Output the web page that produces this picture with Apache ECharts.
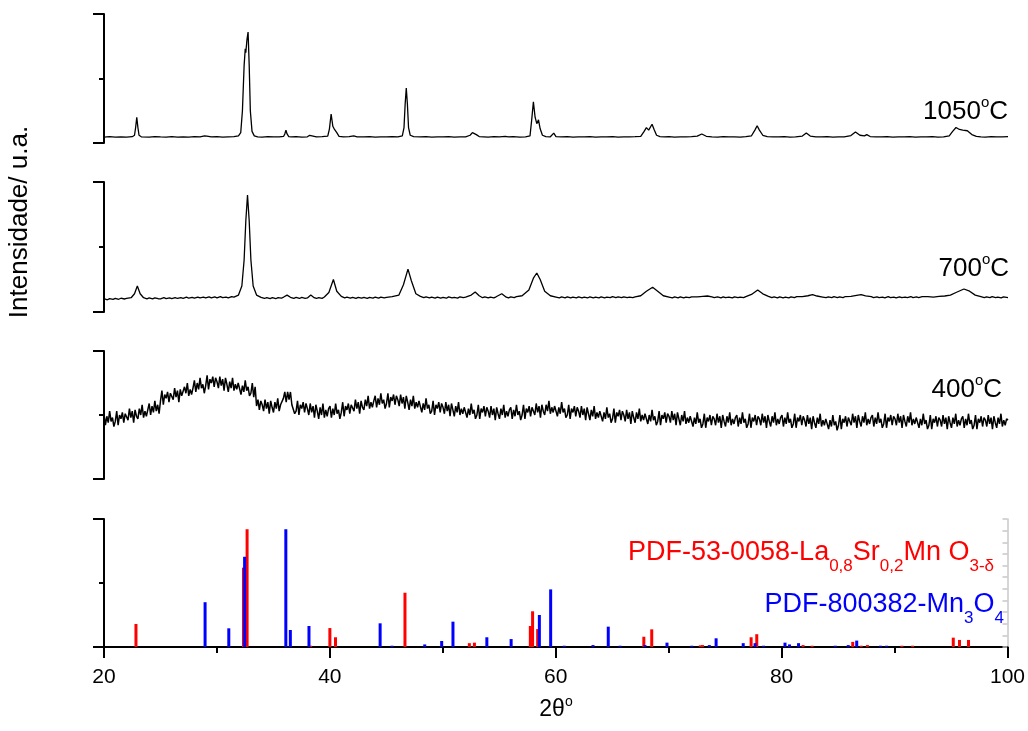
<!DOCTYPE html>
<html>
<head>
<meta charset="utf-8">
<script src="https://cdn.jsdelivr.net/npm/echarts@6/dist/echarts.min.js"></script>
<style>
html,body{margin:0;padding:0;background:#fff;}
#chart{width:1028px;height:731px;}
</style>
</head>
<body>
<div id="chart"></div>
<script>
// ---- data ----
const xTicks = [20, 40, 60, 80, 100];
const panelLabels = ['1050', '700', '400'];

// 1050 °C pattern: [2θ, intensity (panel units 0-100)]
const scan1050 = [
[20,4.6],[20.5,4.9],[21,4.5],[21.5,4.8],[22,4.6],[22.5,4.9],[22.7,6],[22.8,12],[22.9,20],[23.0,12],[23.1,6],[23.3,4.8],[24,4.6],[24.5,5],[25,4.7],[25.5,4.5],[26,4.9],[26.5,4.6],[27,4.8],[27.5,4.6],[28,4.9],[28.5,4.7],[28.9,5.5],[29.0,6.5],[29.1,5.4],[29.5,4.7],[30,4.9],[30.5,4.6],[31,4.8],[31.5,4.9],[31.9,5.5],[32.1,8],[32.25,25],[32.4,60],[32.5,73],[32.55,70],[32.65,80],[32.75,86],[32.85,60],[32.95,25],[33.1,9],[33.3,5.5],[33.6,4.8],[34,4.6],[34.5,4.9],[35,4.7],[35.5,4.8],[35.9,5.2],[36.0,7],[36.1,10],[36.2,7],[36.35,5],[36.6,4.7],[37,4.9],[37.5,4.6],[38,4.8],[38.2,6],[38.35,4.9],[38.8,4.7],[39.3,4.9],[39.8,5.3],[39.95,11],[40.1,22.5],[40.25,13],[40.4,10.5],[40.5,12],[40.6,8],[40.8,5.2],[41.2,4.7],[41.7,4.9],[42.1,5.6],[42.4,4.8],[43,4.7],[43.5,4.9],[44,4.6],[44.5,4.8],[45,4.7],[45.5,4.9],[46,4.8],[46.4,5.5],[46.55,12],[46.65,30],[46.75,42.6],[46.85,30],[46.95,12],[47.1,6],[47.4,4.9],[48,4.7],[48.5,4.9],[49,4.6],[49.5,4.8],[50,4.7],[50.5,4.9],[51,4.6],[51.5,4.8],[52,4.8],[52.4,6],[52.6,8],[52.75,8.5],[52.95,6.5],[53.2,5],[53.6,4.8],[54,4.6],[54.5,4.9],[55,4.7],[55.5,5.1],[55.8,4.7],[56.2,4.9],[56.8,4.6],[57.3,4.8],[57.7,5.5],[57.85,18],[58.0,32],[58.15,20],[58.3,15],[58.45,18],[58.6,11],[58.8,6],[59.1,5],[59.5,4.8],[59.8,7.7],[60.0,5],[60.5,4.7],[61,4.9],[61.5,4.6],[62,4.8],[62.5,4.7],[63,4.9],[63.5,4.6],[64,4.8],[64.5,4.7],[65,4.9],[65.5,4.6],[66,4.8],[66.5,4.7],[67,4.9],[67.5,5.2],[67.8,9],[68.0,11.9],[68.2,10],[68.5,14.5],[68.7,10],[68.9,6],[69.2,5],[69.6,4.7],[70,4.9],[70.5,4.6],[71,4.8],[71.5,4.7],[72,4.9],[72.5,5.3],[72.9,7],[73.3,5.2],[73.8,4.8],[74.3,4.6],[74.8,4.9],[75.3,4.7],[75.8,4.8],[76.3,4.6],[76.8,4.9],[77.3,5.6],[77.6,10],[77.8,13.4],[78.0,10],[78.3,6],[78.7,5],[79.2,4.8],[79.7,4.7],[80.2,4.9],[80.7,4.6],[81.2,4.8],[81.8,5.4],[82.15,7.7],[82.5,5.4],[83,4.8],[83.5,4.7],[84,4.9],[84.5,4.6],[85,4.8],[85.5,4.7],[86.1,5.8],[86.5,8.5],[86.9,6],[87.3,5.5],[87.5,6.5],[87.8,5],[88.3,4.8],[88.8,4.7],[89.3,4.9],[89.8,4.6],[90.3,4.8],[90.8,4.7],[91.3,4.9],[91.8,4.6],[92.3,4.8],[92.8,4.7],[93.3,4.9],[93.8,4.6],[94.3,4.8],[94.8,5.6],[95.1,9],[95.4,12],[95.7,10.5],[96.0,10],[96.4,9.5],[96.8,6.5],[97.2,5.2],[97.6,4.8],[98,4.6],[98.5,4.9],[99,4.7],[99.5,4.8],[100,4.9]
];

// 700 °C pattern
const scan700 = [
[20,10.2],[20.3,9.4],[20.5,10.3],[20.8,9.7],[21,10.5],[21.3,9.8],[21.5,10.6],[21.8,10],[22,10.4],[22.4,11],[22.7,14],[22.95,20],[23.2,14],[23.5,11],[23.8,10.1],[24,10.8],[24.3,10.1],[24.5,10.9],[24.8,10.2],[25,10.1],[25.3,11],[25.5,10.3],[25.8,10.9],[26,10.3],[26.3,11.1],[26.5,10.4],[26.8,11],[27,10.5],[27.3,11.4],[27.5,10.6],[27.8,11.2],[28,10.6],[28.3,11.5],[28.5,10.8],[28.8,11.4],[29,10.8],[29.3,11.7],[29.5,10.9],[29.8,11.6],[30,10.9],[30.3,11.8],[30.5,11],[30.8,11.5],[31,10.8],[31.3,11.8],[31.5,11.5],[31.9,13],[32.2,20],[32.4,40],[32.55,70],[32.7,90],[32.85,70],[33.0,40],[33.2,20],[33.5,13],[33.9,11.2],[34.2,10.4],[34.4,11.1],[34.7,10.3],[34.9,11],[35.2,10.2],[35.4,11],[35.7,10.6],[35.9,11.5],[36.2,13],[36.5,11.3],[36.8,10.5],[37,11.2],[37.3,10.4],[37.5,11.2],[37.8,10.5],[38,10.8],[38.3,13],[38.6,11],[38.8,10.4],[39,11.1],[39.3,10.5],[39.5,11.5],[39.9,15],[40.3,25],[40.6,16],[41,12],[41.3,10.8],[41.5,11.4],[41.8,10.6],[42,11.3],[42.3,10.5],[42.5,11.3],[42.8,10.6],[43,11.2],[43.3,10.5],[43.5,11.3],[43.8,10.7],[44,11.4],[44.3,10.7],[44.5,11.5],[44.8,10.9],[45,11.3],[45.5,11.8],[46.1,13],[46.5,21],[46.9,33],[47.2,24],[47.6,14],[48,12],[48.3,11],[48.5,11.6],[48.8,10.8],[49,11.4],[49.3,10.7],[49.5,11.5],[49.8,10.7],[50,11.3],[50.3,10.6],[50.5,11.6],[50.8,10.8],[51,11.2],[51.3,10.7],[51.5,11.7],[51.8,11],[52,11.5],[52.5,13],[52.85,15.4],[53.2,12.5],[53.5,11],[53.7,11.6],[54,10.8],[54.2,11.4],[54.5,10.9],[54.7,11.7],[55.2,14],[55.6,11.4],[55.8,10.8],[56,11.6],[56.3,11],[56.5,11.8],[57,12.5],[57.6,17],[58,26],[58.3,30],[58.6,25],[59,16],[59.5,12.5],[60,11.5],[60.3,10.9],[60.5,11.6],[60.8,10.9],[61,11.7],[61.3,10.8],[61.5,11.5],[61.8,10.9],[62,11.6],[62.3,10.8],[62.5,11.4],[62.8,10.8],[63,11.7],[63.3,10.9],[63.5,11.4],[63.8,10.8],[64,11.6],[64.3,10.9],[64.5,11.5],[64.8,11],[65,11.8],[65.3,11],[65.5,11.6],[65.8,11],[66,11.7],[66.3,11],[66.5,11.5],[66.8,11],[67,11.6],[67.5,12.5],[68,16],[68.55,19],[69,16],[69.5,12.5],[70,11.5],[70.3,10.9],[70.5,11.6],[70.8,10.9],[71,11.6],[71.3,10.8],[71.5,11.4],[71.8,11],[72,11.7],[72.5,11.6],[73,12],[73.4,12.3],[73.8,11.6],[74,11],[74.3,11.6],[74.6,10.9],[74.8,11.7],[75,11],[75.3,11.5],[75.6,10.8],[75.8,11.6],[76.1,11],[76.3,11.5],[76.6,11],[76.8,11.8],[77.3,13.5],[77.85,17],[78.3,14],[78.8,12],[79.1,11],[79.3,11.6],[79.6,10.9],[79.8,11.7],[80.1,10.9],[80.3,11.4],[80.6,10.9],[80.8,11.7],[81.1,11],[81.3,11.8],[81.8,11.9],[82.3,12.5],[82.7,13.3],[83.1,12.3],[83.6,11.5],[83.9,11],[84.1,11.6],[84.4,11],[84.6,11.8],[84.9,11.1],[85.1,11.6],[85.4,11.1],[85.6,11.9],[86.1,12],[86.6,12.8],[87,13.3],[87.4,12.4],[87.9,11.8],[88.1,11.1],[88.4,11.7],[88.6,11],[88.9,11.5],[89.1,10.9],[89.4,11.8],[89.6,11],[89.9,11.4],[90.1,10.9],[90.4,11.7],[90.6,11],[90.9,11.5],[91.1,11],[91.4,11.9],[91.6,11.1],[91.9,11.6],[92.1,11.1],[92.4,11.8],[92.9,11.9],[93.4,11.5],[93.9,12],[94.4,12.3],[94.9,13],[95.4,15],[96.1,17.7],[96.6,16],[97.1,13],[97.6,11.8],[97.9,11],[98.1,11.6],[98.4,11],[98.6,11.8],[98.9,11],[99.1,11.5],[99.4,10.9],[99.6,11.6],[100,11]
];

// 400 °C pattern: sampled every 0.125° from 20°
const scan400Start = 20;
const scan400Step = 0.125;
const scan400 = [
51,42,49,44,53,45,48,41, 45,53,42,50,47,52,44,51, 51,46,55,48,53,44,54,49, 47,55,50,58,48,53,49,54,
59,50,57,52,61,53,58,51, 61,69,58,66,63,68,60,67, 67,62,71,64,69,60,70,65, 64,72,67,75,65,70,66,71,
77,68,75,70,79,71,74,67, 73,81,70,78,75,80,72,79, 76,71,80,73,78,69,79,74, 68,76,71,79,69,74,70,75,
75,66,73,68,77,69,72,65, 67,75,64,72,57,62,54,61, 58,53,62,55,60,51,61,56, 52,60,55,63,53,58,58,63,
68,60,68,62,68,58,59,51, 53,61,50,58,55,60,52,59, 55,50,59,52,57,48,58,53, 47,56,50,59,48,54,49,55,
57,48,55,50,59,51,54,47, 52,60,49,57,54,59,51,58, 58,53,62,55,60,51,61,56, 54,62,57,65,55,60,56,61,
65,56,63,58,67,59,62,55, 59,67,56,64,61,66,58,65, 62,57,66,59,64,55,65,60, 54,62,57,65,55,60,56,61,
61,52,59,54,63,55,58,51, 53,61,50,58,55,60,52,59, 56,51,60,53,58,49,59,54, 49,57,52,60,50,55,51,56,
57,48,55,50,59,51,54,47, 50,58,47,55,52,57,49,56, 53,48,57,50,55,46,56,51, 47,55,50,58,48,53,49,54,
56,47,54,49,58,50,53,46, 50,58,47,55,52,57,49,56, 55,50,59,52,57,48,58,53, 50,58,53,61,51,56,52,57,
58,49,56,51,60,52,55,48, 50,58,47,55,52,57,49,56, 53,48,57,50,55,46,56,51, 46,54,49,57,47,52,48,53,
54,45,52,47,56,48,51,44, 47,55,44,52,49,54,46,53, 50,45,54,47,52,43,53,48, 44,52,47,55,45,50,46,51,
52,43,50,45,54,46,49,42, 45,53,42,50,47,52,44,51, 49,44,53,46,51,42,52,47, 42,50,45,53,43,48,44,49,
50,41,48,43,52,44,47,40, 43,51,40,48,45,50,42,49, 47,42,51,44,49,40,50,45, 41,49,44,52,42,47,43,48,
50,41,48,43,52,44,47,40, 43,51,40,48,45,50,42,49, 47,42,51,44,49,40,50,45, 41,49,44,52,42,47,43,48,
50,41,48,43,52,44,47,40, 43,51,40,48,45,50,42,49, 46,41,50,43,48,39,49,44, 40,48,43,51,41,46,42,47,
48,39,46,41,50,42,45,38, 42,50,39,47,44,49,41,48, 47,42,51,44,49,40,50,45, 41,49,44,52,42,47,43,48,
50,41,48,43,52,44,47,40, 43,51,40,48,45,50,42,49, 47,42,51,44,49,40,50,45, 41,49,44,52,42,47,43,48,
49,40,47,42,51,43,46,39, 42,50,39,47,44,49,41,48, 46,41,50,43,48,39,49,44, 40,48,43,51,41,46,42,47,
49,40,47,42,51,43,46,39, 42,50,39,47,44,49,41,48, 46,41,50,43,48,39,49,44, 40,48,43,51,41,46,42,47,
46
];

// Reference patterns (stick positions 2θ, relative intensity)
const pdfLSMpos = [22.83,32.35,32.67,38.3,40.0,40.5,46.65,52.35,52.8,57.75,57.95,58.4,67.8,68.5,72.8,73.0,77.3,77.8,81.9,82.7,86.3,87.05,87.6,90.65,91.6,95.2,95.75,96.55];
const pdfLSMint = [18,62,92,1,14.8,7.6,42.4,3,3.4,16.4,27.9,14,8,13.8,1.3,1.5,7.6,10,1.5,1,4,1,1.5,1,1,7.3,5.5,5.5];
const pdfMnpos = [28.95,31.05,32.45,36.1,36.5,38.15,44.45,45.5,48.4,49.9,50.9,53.9,56.05,58.55,59.55,60.75,63.3,64.65,65.7,67.9,69.85,72.05,73.6,74.2,76.6,77.65,78.4,80.3,80.7,81.5,84.75,85.9,86.65,88.75,89.3];
const pdfMnint = [35,14.6,70.5,92,13.3,16.4,18.5,1,2,4.7,19.8,7.6,6.2,25,45,1,1.5,15.9,1,1.5,3.4,1,1.5,6.8,3,3,1,3.4,2,3,1,1.5,5,1,1];

// ---- chart ----
const FONT = '"Liberation Sans", Arial, sans-serif';
const pairs = (xs, ys) => xs.map((x, i) => [x, ys[i]]);
const data400 = scan400.map((v, i) => [scan400Start + i * scan400Step, v]);

const grids = [
  {left: 104, right: 20, top: 14, height: 129},
  {left: 104, right: 20, top: 182, height: 130},
  {left: 104, right: 20, top: 351, height: 128},
  {left: 104, right: 20, top: 519, height: 128}
];

function leftY(i) {
  return {
    type: 'value', gridIndex: i, min: 0, max: 100, interval: 100,
    axisLine: {show: true, lineStyle: {color: '#000', width: 2}},
    axisTick: {show: true, length: 11, lineStyle: {color: '#000', width: 2}},
    minorTick: {show: true, splitNumber: 2, length: 5, lineStyle: {color: '#000', width: 2}},
    axisLabel: {show: false}, splitLine: {show: false}, minorSplitLine: {show: false}
  };
}
function hiddenX(i) {
  return {type: 'value', gridIndex: i, min: 20, max: 100, show: false, splitLine: {show: false}};
}

const labStyle = {
  m: {fontSize: 26, fontFamily: FONT, lineHeight: 34, verticalAlign: 'middle', fill: '#000'},
  o: {fontSize: 15, fontFamily: FONT, lineHeight: 15, verticalAlign: 'top', fill: '#000'}
};
function tempLabel(t, x, y) {
  return {type: 'text', x: x, y: y, z: 100,
    style: {text: '{m|' + t + '}{o|o}{m|C}', rich: labStyle, align: 'right', verticalAlign: 'top'}};
}
function pdfRich(color) {
  return {
    m: {fontSize: 27, fontFamily: FONT, lineHeight: 44, verticalAlign: 'middle', fill: color},
    s: {fontSize: 17, fontFamily: FONT, lineHeight: 17, verticalAlign: 'bottom', fill: color}
  };
}

const option = {
  backgroundColor: '#fff',
  animation: false,
  grid: grids,
  xAxis: [hiddenX(0), hiddenX(1), hiddenX(2), {
    type: 'value', gridIndex: 3, min: xTicks[0], max: xTicks[xTicks.length - 1], interval: 20,
    axisLine: {show: true, lineStyle: {color: '#000', width: 2}},
    axisTick: {show: true, length: 11, lineStyle: {color: '#000', width: 2}},
    minorTick: {show: true, splitNumber: 2, length: 6, lineStyle: {color: '#000', width: 2}},
    axisLabel: {show: true, color: '#000', fontSize: 21, fontFamily: FONT, margin: 20,
      formatter: v => xTicks.includes(v) ? String(v) : ''},
    splitLine: {show: false}, minorSplitLine: {show: false}
  }],
  yAxis: [leftY(0), leftY(1), leftY(2), leftY(3), {
    type: 'value', gridIndex: 3, position: 'right', min: 0, max: 110, interval: 10,
    axisLine: {show: true, lineStyle: {color: '#c8c8c8', width: 1.5}},
    axisTick: {show: true, inside: true, length: 5, lineStyle: {color: '#c8c8c8', width: 1.5}},
    axisLabel: {show: false}, splitLine: {show: false}
  }],
  series: [
    {type: 'line', xAxisIndex: 0, yAxisIndex: 0, data: scan1050, showSymbol: false, symbol: 'none',
      lineStyle: {color: '#000', width: 1.3}, z: 3},
    {type: 'line', xAxisIndex: 1, yAxisIndex: 1, data: scan700, showSymbol: false, symbol: 'none',
      lineStyle: {color: '#000', width: 1.3}, z: 3},
    {type: 'line', xAxisIndex: 2, yAxisIndex: 2, data: data400, showSymbol: false, symbol: 'none',
      lineStyle: {color: '#000', width: 1.5}, z: 3},
    {type: 'bar', name: 'LSM', xAxisIndex: 3, yAxisIndex: 3, data: pairs(pdfLSMpos, pdfLSMint),
      barWidth: 3, barGap: '-100%', itemStyle: {color: '#ff0000'}, z: 2},
    {type: 'bar', name: 'Mn3O4', xAxisIndex: 3, yAxisIndex: 3, data: pairs(pdfMnpos, pdfMnint),
      barWidth: 3, barGap: '-100%', itemStyle: {color: '#0000ff'}, z: 3}
  ],
  graphic: [
    tempLabel(panelLabels[0], 1008, 95),
    tempLabel(panelLabels[1], 1009, 252),
    tempLabel(panelLabels[2], 1002, 373),
    {type: 'text', x: 994, y: 531, z: 100, style: {
      text: '{m|PDF-53-0058-La}{s|0,8}{m|Sr}{s|0,2}{m|Mn O}{s|3-δ}', rich: pdfRich('#ff0000'),
      align: 'right', verticalAlign: 'top'}},
    {type: 'text', x: 1004, y: 583, z: 100, style: {
      text: '{m|PDF-800382-Mn}{s|3}{m|O}{s|4}', rich: pdfRich('#0000ff'),
      align: 'right', verticalAlign: 'top'}},
    {type: 'text', x: 20, y: 222, rotation: Math.PI / 2, z: 100, style: {
      text: 'Intensidade/ u.a.', fontSize: 26, fontFamily: FONT, fill: '#000',
      align: 'center', verticalAlign: 'middle'}},
    {type: 'text', x: 556, y: 695, z: 100, style: {
      text: '{m|2θ}{o|o}', rich: {
        m: {fontSize: 23, fontFamily: FONT, lineHeight: 30, verticalAlign: 'middle', fill: '#000'},
        o: {fontSize: 14, fontFamily: FONT, lineHeight: 14, verticalAlign: 'top', fill: '#000'}},
      align: 'center', verticalAlign: 'top'}}
  ]
};

const chart = echarts.init(document.getElementById('chart'), null, {renderer: 'canvas'});
chart.setOption(option);
</script>
</body>
</html>
